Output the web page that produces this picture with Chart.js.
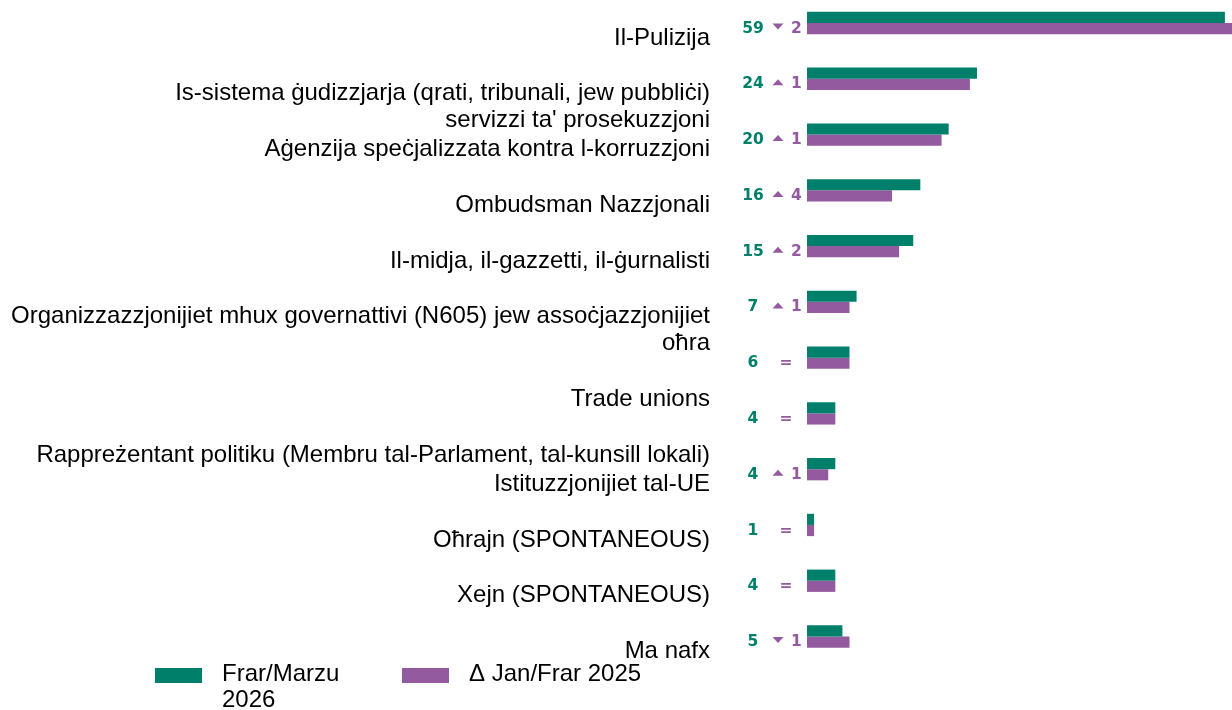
<!DOCTYPE html>
<html lang="mt">
<head>
<meta charset="utf-8">
<title>Fiduċja fl-istituzzjonijiet</title>
<script src="https://cdn.jsdelivr.net/npm/chart.js@4/dist/chart.umd.min.js"></script>
<style>
  html, body { margin: 0; padding: 0; background: #fff; }
  #kontenitur { position: relative; width: 1232px; height: 710px; }
</style>
</head>
<body>
<div id="kontenitur"><canvas id="grafika"></canvas></div>
<script>
// Kategoriji (linji multipli fejn it-test jinqasam)
const kategoriji = [
    'Il-Pulizija',
    ['Is-sistema ġudizzjarja (qrati, tribunali, jew pubbliċi)', "servizzi ta' prosekuzzjoni"],
    'Aġenzija speċjalizzata kontra l-korruzzjoni',
    'Ombudsman Nazzjonali',
    'Il-midja, il-gazzetti, il-ġurnalisti',
    ['Organizzazzjonijiet mhux governattivi (N605) jew assoċjazzjonijiet', 'oħra'],
    'Trade unions',
    'Rappreżentant politiku (Membru tal-Parlament, tal-kunsill lokali)',
    'Istituzzjonijiet tal-UE',
    'Oħrajn (SPONTANEOUS)',
    'Xejn (SPONTANEOUS)',
    'Ma nafx'
];

// Perċentwali
const frarMarzu2026 = [59, 24, 20, 16, 15, 7, 6, 4, 4, 1, 4, 5];
const janFrar2025 = [61, 23, 19, 12, 13, 6, 6, 4, 3, 1, 4, 6];

const ahdar = '#00806b';
const vjola = '#945a9f';

let grafika;

// Numru u bidla (▲ / ▼ / =) fuq ix-xellug ta' kull par ta' bars
const tikkettiValuri = {
    id: 'tikkettiValuri',
    afterDatasetsDraw(chart) {
        const { ctx, chartArea } = chart;
        const meta = chart.getDatasetMeta(1);
        const x0 = chartArea.left;
        ctx.save();
        ctx.font = 'bold 15.5px "DejaVu Sans", Verdana, sans-serif';
        ctx.textBaseline = 'middle';
        meta.data.forEach((bar, i) => {
            const y = bar.y;
            const bidla = frarMarzu2026[i] - janFrar2025[i];
            ctx.fillStyle = ahdar;
            ctx.textAlign = 'center';
            ctx.fillText(String(frarMarzu2026[i]), x0 - 54, y);
            ctx.fillStyle = vjola;
            if (bidla === 0) {
                ctx.fillText('=', x0 - 21, y);
                return;
            }
            const tx = x0 - 29;
            const ty = y - 2;
            ctx.beginPath();
            if (bidla > 0) {
                ctx.moveTo(tx - 5.5, ty + 3);
                ctx.lineTo(tx + 5.5, ty + 3);
                ctx.lineTo(tx, ty - 3);
            } else {
                ctx.moveTo(tx - 5.5, ty - 3);
                ctx.lineTo(tx + 5.5, ty - 3);
                ctx.lineTo(tx, ty + 3);
            }
            ctx.closePath();
            ctx.fill();
            ctx.textAlign = 'left';
            ctx.fillText(String(Math.abs(bidla)), x0 - 16, y);
        });
        ctx.restore();
    }
};

// Leġġenda taħt il-grafika
const leggenda = {
    id: 'leggenda',
    afterDraw(chart) {
        const { ctx } = chart;
        const pozizzjonijiet = [155, 402];
        ctx.save();
        ctx.font = '24px "Liberation Sans", Arial, sans-serif';
        ctx.textBaseline = 'middle';
        ctx.textAlign = 'left';
        chart.data.datasets.forEach((ds, i) => {
            const x = pozizzjonijiet[i];
            ctx.fillStyle = ds.backgroundColor;
            ctx.fillRect(x, 668, 47, 15);
            ctx.fillStyle = '#000';
            ds.label.split('\n').forEach((linja, j) => {
                ctx.fillText(linja, x + 67, 674 + j * 26);
            });
        });
        ctx.restore();
    }
};

function holqGrafika() {
    // kemm-il linja vojta qabel kull tikketta, biex it-test jinżel taħt il-bars
    const linjiVojta = [0, 1, 0, 0, 0, 1, 2, 2, 0, 0, 0, 0];
    const tikketti = kategoriji.map((k, i) => {
        const linji = Array.isArray(k) ? k : [k];
        return Array(linjiVojta[i]).fill('').concat(linji);
    });

    const ctx = document.getElementById('grafika').getContext('2d');
    grafika = new Chart(ctx, {
        type: 'bar',
        data: {
            labels: tikketti,
            datasets: [{
                label: 'Frar/Marzu\n2026',
                data: frarMarzu2026,
                backgroundColor: ahdar,
                borderWidth: 0,
                categoryPercentage: 0.4,
                barPercentage: 1,
                clip: false
            }, {
                label: 'Δ Jan/Frar 2025',
                data: janFrar2025,
                backgroundColor: vjola,
                borderWidth: 0,
                categoryPercentage: 0.4,
                barPercentage: 1,
                clip: false
            }]
        },
        options: {
            indexAxis: 'y',
            responsive: true,
            maintainAspectRatio: false,
            animation: false,
            layout: {
                padding: { top: 23, bottom: 73.5, left: 0, right: 0 }
            },
            scales: {
                x: {
                    display: false,
                    min: 0,
                    max: 60
                },
                y: {
                    offset: false,
                    grid: { display: false, drawTicks: false },
                    border: { display: false },
                    ticks: {
                        autoSkip: false,
                        padding: 97,
                        labelOffset: 15,
                        color: '#000',
                        font: {
                            family: '"Liberation Sans", Arial, sans-serif',
                            size: 24,
                            lineHeight: 1.125
                        }
                    },
                    afterFit(scale) {
                        scale.width = 807;
                        scale.paddingTop = 0;
                        scale.paddingBottom = 0;
                    }
                }
            },
            plugins: {
                legend: { display: false },
                tooltip: { enabled: false }
            }
        },
        plugins: [tikkettiValuri, leggenda]
    });
}

holqGrafika();
</script>
</body>
</html>
